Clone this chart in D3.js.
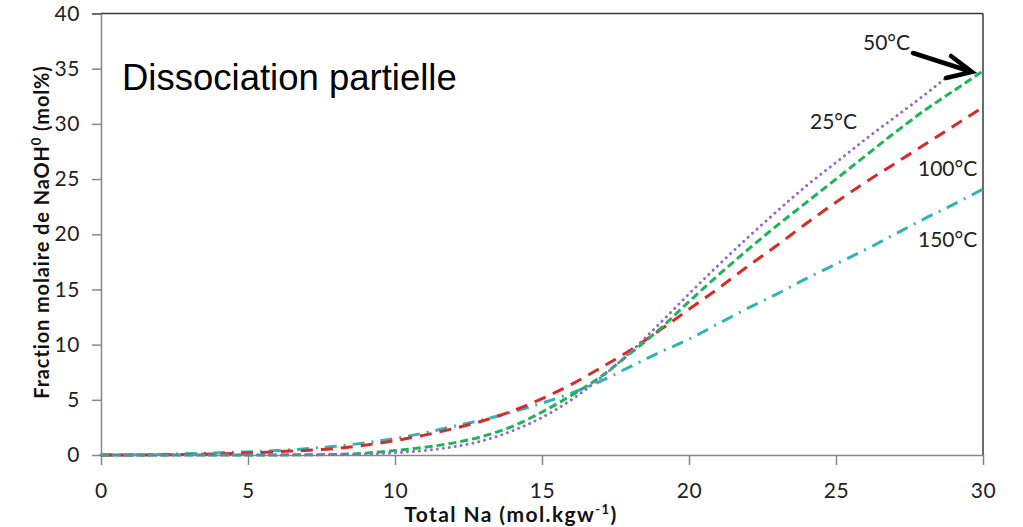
<!DOCTYPE html>
<html><head><meta charset="utf-8">
<script src="https://cdn.jsdelivr.net/npm/d3@7"></script>
<style>body{margin:0;background:#fff}svg{display:block}</style>
</head><body>
<svg id="c" width="1023" height="527"></svg>
<script>
const xTicks = [0,5,10,15,20,25,30];
const yTicks = [0,5,10,15,20,25,30,35,40];
const xs = [0,2,4,6,8,10,11,12,13,14,15,16,17,18,19,20,21,22,23,24,25,26,27,28,29,30];
const s25x = [0,2,4,6,8,10,11,12,13,14,15,16,17,18,19,20,21,22,23,24,25,26,27,28,28.8];
const s25 = [0,0,0,0,0.02,0.2,0.4,0.75,1.3,2.2,3.4,5.0,7.0,9.3,11.9,14.6,17.2,19.7,22.1,24.4,26.5,28.6,30.6,32.6,34.3];
const s50 = [0,0,0,0.01,0.05,0.4,0.7,1.1,1.7,2.6,3.9,5.4,7.1,9.2,11.4,13.9,16.3,18.6,20.8,22.9,25.0,27.1,29.2,31.2,33.0,34.8];
const s100 = [0,0.02,0.1,0.3,0.6,1.3,1.8,2.4,3.1,4.0,5.1,6.4,7.9,9.5,11.3,13.2,15.1,17.1,19.0,21.0,22.9,24.7,26.4,28.1,29.8,31.5];
const s150 = [0,0.05,0.2,0.4,0.8,1.5,2.0,2.6,3.2,3.9,4.7,5.6,6.7,8.0,9.3,10.5,11.9,13.3,14.6,16.0,17.3,18.6,20.0,21.4,22.7,24.1];
const seriesLabels = ["25°C","50°C","100°C","150°C"];

const svg = d3.select("#c");
const L=101,R=983,T=13.5,B=455;
const x = d3.scaleLinear().domain([0,30]).range([L,R]);
const y = d3.scaleLinear().domain([0,40]).range([B,T]);
const font = "Lato, 'Open Sans', sans-serif";

svg.append("line").attr("x1",L).attr("x2",R).attr("y1",T).attr("y2",T).attr("stroke","#3a3a3a").attr("stroke-width",1.5);
svg.append("line").attr("x1",R).attr("x2",R).attr("y1",T).attr("y2",B).attr("stroke","#3a3a3a").attr("stroke-width",1.5);

const gx = svg.append("g").attr("transform",`translate(0,${B})`)
  .call(d3.axisBottom(x).tickValues(xTicks).tickSize(10).tickPadding(18).tickSizeOuter(0));
const gy = svg.append("g").attr("transform",`translate(${L},0)`)
  .call(d3.axisLeft(y).tickValues(yTicks).tickSize(9).tickPadding(12).tickSizeOuter(0));
[gx,gy].forEach(g=>{
  g.selectAll("path,line").attr("stroke","#878787").attr("stroke-width",1.5);
  g.selectAll("text").attr("font-family",font).attr("font-size",21).attr("fill","#222").attr("letter-spacing",0.6);
});
gy.select(".tick:last-of-type line").attr("stroke","#3a3a3a");

const line = d3.line().x(d=>x(d[0])).y(d=>y(d[1])).curve(d3.curveMonotoneX);
const series = [
  {name:seriesLabels[3], xs:xs, v:s150, color:"#2fb5b5", dash:"12 7 2 7", cap:"butt"},
  {name:seriesLabels[2], xs:xs, v:s100, color:"#d92a2a", dash:"12 8", cap:"butt"},
  {name:seriesLabels[1], xs:xs, v:s50, color:"#1eb45a", dash:"8 4", cap:"butt"},
  {name:seriesLabels[0], xs:s25x, v:s25, color:"#9468cc", dash:"0.01 6", cap:"round"}
];
series.forEach(s=>{
  svg.append("path").datum(s.xs.map((xx,i)=>[xx,s.v[i]]))
    .attr("d",line).attr("fill","none").attr("stroke",s.color)
    .attr("stroke-width",3).attr("stroke-dasharray",s.dash).attr("stroke-linecap",s.cap);
});

const labs = [
  {t:seriesLabels[1], x:863, y:50},
  {t:seriesLabels[0], x:810, y:129},
  {t:seriesLabels[2], x:918, y:176},
  {t:seriesLabels[3], x:918, y:247}
];
labs.forEach(l=>svg.append("text").attr("x",l.x).attr("y",l.y).text(l.t)
  .attr("font-family",font).attr("font-size",21).attr("fill","#222"));

svg.append("path").attr("d","M913,53 L972,72 M951,56 L972,72 L946,78")
  .attr("fill","none").attr("stroke","#000").attr("stroke-width",4.5).attr("stroke-linejoin","miter").attr("stroke-linecap","round");

svg.append("text").attr("x",122).attr("y",90).text("Dissociation partielle")
  .attr("font-family","'Liberation Sans', Arial, sans-serif").attr("font-size",36.5).attr("fill","#000");

function fitWidth(t, target){
  const w = t.node().getComputedTextLength();
  const n = t.text().length;
  if (n>1) t.attr("letter-spacing", (target - w)/(n-1));
}

const xt = svg.append("text").attr("x",511).attr("y",522).attr("text-anchor","middle")
  .attr("font-family",font).attr("font-weight","bold").attr("font-size",21).attr("fill","#111");
xt.append("tspan").text("Total Na (mol.kgw");
xt.append("tspan").text("-1").attr("dy",-8).attr("font-size",13);
xt.append("tspan").text(")").attr("dy",8);
fitWidth(xt, 212);

const yt = svg.append("text").attr("transform","translate(49,232) rotate(-90)").attr("text-anchor","middle")
  .attr("font-family",font).attr("font-weight","bold").attr("font-size",20).attr("fill","#111");
yt.append("tspan").text("Fraction molaire de NaOH");
yt.append("tspan").text("0").attr("dy",-8).attr("font-size",13);
yt.append("tspan").text(" (mol%)").attr("dy",8);
fitWidth(yt, 333);
</script>
</body></html>
